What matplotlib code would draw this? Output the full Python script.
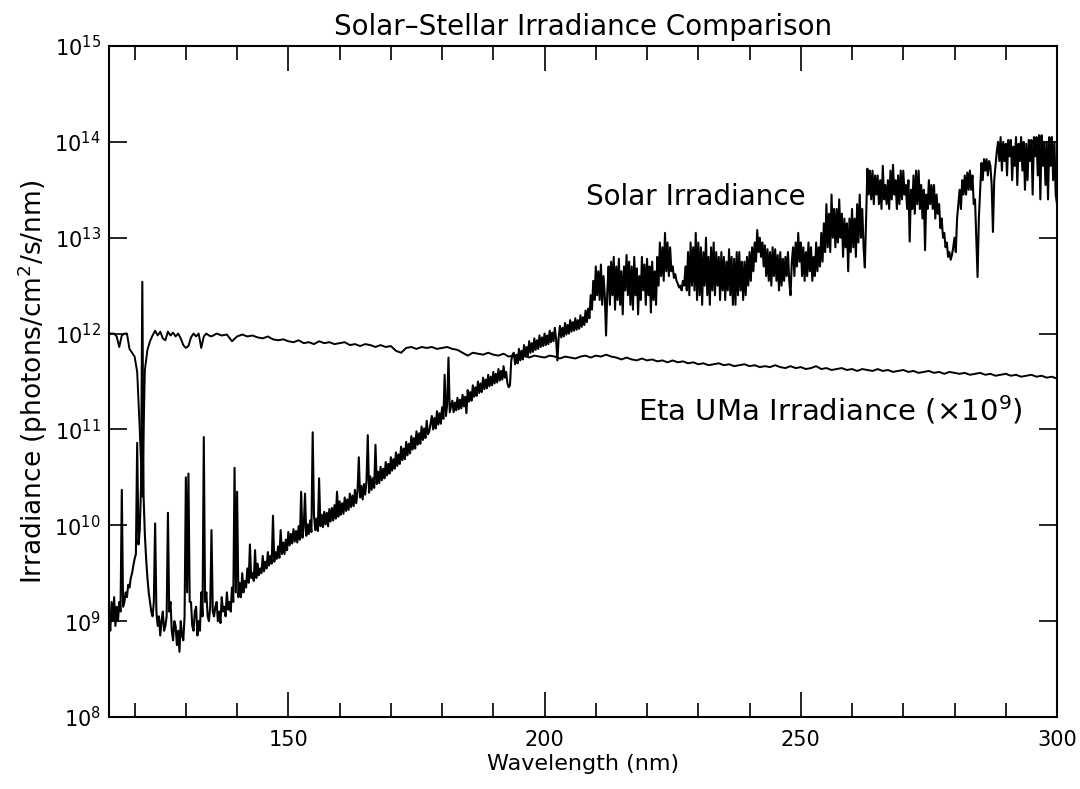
import numpy as np
import matplotlib
matplotlib.use("Agg")
import matplotlib.pyplot as plt
from matplotlib.ticker import MultipleLocator, NullLocator, NullFormatter

# ---------------------------------------------------------------
# Solar irradiance, log10(photons/cm^2/s/nm), every 0.25 nm
# ---------------------------------------------------------------
solar_115 = [  # 115.00 - 149.75 nm
    9.05, 8.9, 9.2, 9.0,   9.25, 8.95, 9.15, 9.0,
    9.2, 9.1, 10.37, 9.15,   9.2, 9.3, 9.25, 9.38,
    9.35, 9.45, 9.5, 9.58,   9.65, 9.7, 10.86, 9.8,
    9.95, 10.4, 12.54, 10.3,   9.9, 9.65, 9.45, 9.3,
    9.2, 9.1, 9.05, 9.2,   10.02, 9.1, 8.95, 9.05,
    8.85, 9.0, 9.1, 8.9,   8.95, 9.05, 10.13, 9.1,
    9.2, 8.9, 8.8, 9.0,   8.95, 8.75, 8.9, 8.68,
    9.0, 8.85, 8.8, 9.05,   10.5, 9.3, 10.54, 9.2,
    9.2, 8.95, 8.9, 9.1,   9.15, 8.85, 9.0, 8.9,
    9.3, 9.05, 10.92, 9.2,   9.3, 9.05, 9.0, 9.15,
    9.95, 9.1, 9.05, 9.15,   9.2, 9.0, 9.1, 8.98,
    9.25, 9.1, 9.15, 9.05,   9.3, 9.12, 9.2, 9.1,
    9.35, 9.2, 10.6, 9.3,   10.35, 9.25, 9.4, 9.25,
    9.5, 9.3, 9.42, 9.35,   9.55, 9.4, 9.8, 9.45,
    9.5, 9.42, 9.74, 9.45,   9.6, 9.48, 9.55, 9.5,
    9.68, 9.52, 9.62, 9.55,   9.72, 9.58, 9.68, 9.6,
    10.1, 9.62, 9.72, 9.65,   9.78, 9.66, 9.95, 9.7,
    9.82, 9.7, 9.85, 9.74,
]
solar_150 = [  # 150.00 - 179.75 nm
    9.93, 9.79, 9.91, 9.81,   9.96, 9.83, 9.94, 9.82,
    9.99, 9.85, 10.35, 9.87,   9.98, 10.33, 9.89, 10.01,
    9.91, 10.05, 9.93, 10.97,   10.11, 9.95, 10.07, 9.94,
    10.49, 9.99, 10.11, 9.98,   10.14, 10.01, 10.13, 9.99,
    10.17, 10.04, 10.18, 10.05,   10.21, 10.07, 10.35, 10.09,
    10.25, 10.11, 10.23, 10.12,   10.29, 10.15, 10.27, 10.16,
    10.33, 10.19, 10.31, 10.2,   10.37, 10.23, 10.35, 10.71,
    10.29, 10.41, 10.27, 10.43,   10.32, 10.46, 10.94, 10.34,
    10.51, 10.37, 10.49, 10.39,   10.84, 10.43, 10.56, 10.44,
    10.61, 10.47, 10.59, 10.49,   10.66, 10.52, 10.64, 10.54,
    10.71, 10.57, 10.69, 10.59,   10.76, 10.62, 10.74, 10.64,
    10.82, 10.68, 10.8, 10.69,   10.87, 10.73, 10.85, 10.75,
    10.93, 10.79, 10.91, 10.8,   10.98, 10.84, 10.96, 10.85,
    11.03, 10.89, 11.01, 10.91,   11.09, 10.95, 10.98, 11.06,
    11.14, 11.0, 11.12, 11.01,   11.19, 11.05, 11.17, 11.06,
]
solar_180 = [  # 180.00 - 209.75 nm
    11.23, 11.11, 11.57, 11.14,   11.26, 11.75, 11.18, 11.24,
    11.3, 11.18, 11.28, 11.2,   11.33, 11.21, 11.31, 11.22,
    11.36, 11.24, 11.34, 11.17,   11.41, 11.29, 11.39, 11.3,
    11.46, 11.34, 11.44, 11.35,   11.5, 11.38, 11.48, 11.39,
    11.54, 11.42, 11.52, 11.43,   11.57, 11.45, 11.55, 11.46,
    11.6, 11.48, 11.58, 11.49,   11.63, 11.51, 11.61, 11.52,
    11.66, 11.54, 11.6, 11.48,   11.44, 11.46, 11.72, 11.78,
    11.8, 11.68, 11.78, 11.69,   11.84, 11.72, 11.82, 11.73,
    11.88, 11.76, 11.86, 11.77,   11.92, 11.8, 11.9, 11.81,
    11.95, 11.83, 11.93, 11.84,   11.98, 11.86, 11.96, 11.87,
    12.0, 11.88, 11.98, 11.89,   12.03, 11.91, 12.01, 11.92,
    12.06, 11.94, 11.72, 11.96,   12.08, 11.96, 12.06, 11.97,
    12.11, 11.99, 12.09, 12.0,   12.14, 12.02, 12.12, 12.03,
    12.16, 12.04, 12.14, 12.05,   12.19, 12.07, 12.17, 12.09,
    12.24, 12.12, 12.26, 12.16,   12.4, 12.25, 12.55, 12.35,
]
solar_210 = [  # 210.00 - 249.75 nm
    12.7, 12.4, 12.65, 12.35,   12.72, 12.3, 12.6, 12.4,
    11.98, 12.45, 12.7, 12.3,   12.75, 12.4, 12.8, 12.25,
    12.7, 12.35, 12.78, 12.3,   12.65, 12.2, 12.7, 12.45,
    12.82, 12.4, 12.75, 12.3,   12.7, 12.25, 12.8, 12.4,
    12.68, 12.2, 12.6, 12.35,   12.8, 12.45, 12.72, 12.3,
    12.78, 12.4, 12.7, 12.22,   12.75, 12.35, 12.65, 12.3,
    12.8, 12.5, 12.95, 12.6,   12.9, 12.55, 13.05, 12.65,
    12.95, 12.6, 12.9, 12.65,   12.7, 12.58, 12.62, 12.55,
    12.52, 12.48, 12.5, 12.45,   12.55, 12.5, 12.7, 12.45,
    12.85, 12.4, 12.95, 12.5,   12.9, 12.45, 13.05, 12.35,
    12.95, 12.4, 12.9, 12.3,   12.85, 12.5, 13.0, 12.4,
    12.8, 12.3, 12.9, 12.45,   12.95, 12.4, 12.85, 12.5,
    12.8, 12.35, 12.85, 12.45,   12.8, 12.35, 12.75, 12.45,
    12.88, 12.4, 12.8, 12.3,   12.78, 12.3, 12.85, 12.4,
    12.85, 12.45, 12.75, 12.35,   12.75, 12.4, 12.8, 12.5,
    12.85, 12.55, 12.9, 12.65,   12.95, 12.75, 13.08, 12.85,
    13.0, 12.8, 12.95, 12.7,   12.92, 12.6, 12.88, 12.55,
    12.85, 12.5, 12.9, 12.6,   12.88, 12.55, 12.82, 12.45,
    12.85, 12.5, 12.78, 12.55,   12.8, 12.6, 12.85, 12.55,
    12.4, 12.75, 12.9, 12.6,   12.95, 12.7, 13.05, 12.75,
]
solar_250 = [  # 250.00 - 300.00 nm
    12.95, 12.6, 12.9, 12.55,   12.85, 12.6, 12.95, 12.65,
    12.9, 12.55, 12.8, 12.6,   12.95, 12.65, 12.9, 12.7,
    13.05, 12.75, 13.15, 12.85,   13.35, 12.9, 13.25, 12.85,
    13.45, 13.0, 13.3, 12.9,   13.3, 12.95, 13.4, 13.0,
    13.25, 12.8, 13.2, 12.9,   13.15, 12.65, 13.2, 12.85,
    13.3, 12.9, 13.2, 12.8,   13.35, 12.95, 13.45, 13.0,
    13.3, 12.9, 12.69, 13.2,   13.72, 13.45, 13.7, 13.4,
    13.7, 13.35, 13.65, 13.45,   13.65, 13.35, 13.6, 13.3,
    13.75, 13.4, 13.55, 13.35,   13.6, 13.3, 13.7, 13.4,
    13.76, 13.45, 13.6, 13.3,   13.65, 13.35, 13.7, 13.4,
    13.7, 13.45, 13.55, 13.3,   13.6, 12.96, 13.5, 13.3,
    13.65, 13.25, 13.7, 13.35,   13.7, 13.3, 13.55, 13.2,
    13.5, 12.87, 13.45, 13.3,   13.6, 13.35, 13.55, 13.3,
    13.55, 13.2, 13.45, 13.25,   13.35, 13.1, 13.2, 13.0,
    13.05, 12.9, 12.95, 12.8,   12.85, 12.77, 12.82, 12.9,
    13.0, 12.85, 13.2, 13.35,   13.5, 13.3, 13.6, 13.45,
    13.65, 13.45, 13.68, 13.5,   13.7, 13.5, 13.65, 13.35,
    13.4, 13.0, 12.59, 13.2,   13.5, 13.78, 13.6, 13.82,
    13.7, 13.82, 13.65, 13.8,   13.75, 13.55, 13.06, 13.6,
    13.75, 13.9, 14.0, 13.8,   14.05, 13.7, 14.0, 13.8,
    13.98, 13.65, 14.02, 13.85,   14.02, 13.6, 13.95, 13.75,
    14.05, 13.55, 13.98, 13.8,   14.05, 13.7, 14.0, 13.5,
    13.98, 13.6, 14.02, 13.8,   14.02, 13.45, 14.05, 13.85,
    14.05, 13.65, 14.07, 13.4,   14.07, 13.75, 14.0, 13.55,
    14.0, 13.4, 14.05, 13.75,   14.05, 13.6, 14.0, 13.45,
    13.35,
]
solar_segments = [(115.0, 0.25, solar_115), (150.0, 0.25, solar_150),
                  (180.0, 0.25, solar_180), (210.0, 0.25, solar_210),
                  (250.0, 0.25, solar_250)]

# ---------------------------------------------------------------
# Eta UMa irradiance scaled by 1e9, log10 units
# ---------------------------------------------------------------
eta_115 = [  # 115.0 - 134.5 nm, every 0.5 nm
    12.0, 12.0, 12.0, 11.97, 11.86, 11.98, 12.0, 12.0, 11.84, 11.8,
    11.76, 11.6, 11.0, 10.3, 11.62, 11.83, 11.92, 11.98, 12.03, 11.98,
    12.02, 11.95, 11.93, 12.02, 11.98, 12.01, 11.97, 12.0, 11.95, 11.88,
    11.85, 11.87, 11.96, 12.0, 11.97, 12.0, 11.85, 11.97, 12.0, 11.98,
]
eta_135 = [  # 135 - 300 nm, every 1 nm
    11.97, 12.0, 11.98, 11.99, 11.92, 11.97, 11.99, 11.97, 11.98, 11.96,
    11.95, 11.97, 11.94, 11.93, 11.94, 11.92, 11.91, 11.93, 11.9, 11.91,
    11.89, 11.92, 11.9, 11.91, 11.89, 11.9, 11.91, 11.88, 11.89, 11.87,
    11.89, 11.88, 11.86, 11.88, 11.86, 11.87, 11.82, 11.8, 11.85, 11.86,
    11.84, 11.86, 11.85, 11.86, 11.84, 11.85, 11.86, 11.84, 11.83, 11.8,
    11.77, 11.8, 11.79, 11.78, 11.8, 11.78, 11.77, 11.79, 11.76, 11.77,
    11.76, 11.77, 11.75, 11.77, 11.76, 11.75, 11.77, 11.76, 11.74, 11.76,
    11.75, 11.74, 11.76, 11.77, 11.75, 11.77, 11.76, 11.78, 11.76, 11.75,
    11.73, 11.75, 11.73, 11.72, 11.74, 11.72, 11.73, 11.71, 11.72, 11.7,
    11.72, 11.7, 11.71, 11.69, 11.7, 11.68, 11.69, 11.67, 11.68, 11.69,
    11.67, 11.68, 11.66, 11.67, 11.68, 11.66, 11.67, 11.65, 11.66, 11.65,
    11.67, 11.65, 11.64, 11.66, 11.64, 11.65, 11.63, 11.64, 11.66, 11.63,
    11.64, 11.62, 11.63, 11.64, 11.62, 11.63, 11.61, 11.63, 11.62, 11.61,
    11.63, 11.61, 11.62, 11.6, 11.61, 11.62, 11.6, 11.61, 11.59, 11.6,
    11.61, 11.59, 11.6, 11.58, 11.6, 11.59, 11.58, 11.59, 11.57, 11.58,
    11.59, 11.57, 11.58, 11.56, 11.57, 11.58, 11.56, 11.57, 11.55, 11.56,
    11.57, 11.55, 11.56, 11.54, 11.55, 11.53,
]
eta_segments = [(115.0, 0.5, eta_115), (135.0, 1.0, eta_135)]

x_ticks = [150, 200, 250, 300]
y_decades = list(range(8, 16))
title = "Solar\u2013Stellar Irradiance Comparison"
solar_label = "Solar Irradiance"
eta_label = r"Eta UMa Irradiance ($\times$10$^9$)"


def assemble(segments):
    wl, val = [], []
    for start, step, values in segments:
        wl.append(start + step * np.arange(len(values)))
        val.append(np.asarray(values, dtype=float))
    return np.concatenate(wl), 10.0 ** np.concatenate(val)


solar_wl, solar_flux = assemble(solar_segments)
eta_wl, eta_flux = assemble(eta_segments)

plt.rcParams["font.family"] = ["DejaVu Sans"]
plt.rcParams["mathtext.fontset"] = "dejavusans"

fig = plt.figure(figsize=(10.8, 7.89), dpi=100)
ax = fig.add_axes([109 / 1080, 72 / 789, 948 / 1080, 671 / 789])

ax.plot(solar_wl, solar_flux, color="black", lw=1.5)
ax.plot(eta_wl, eta_flux, color="black", lw=1.4)

ax.set_yscale("log")
ax.set_xlim(115, 300)
ax.set_ylim(1e8, 1e15)
ax.set_xticks(x_ticks)
ax.set_yticks([10.0 ** k for k in y_decades])
ax.set_yticklabels([rf"10$^{{{k}}}$" for k in y_decades])
ax.xaxis.set_minor_locator(MultipleLocator(10))
ax.xaxis.set_minor_formatter(NullFormatter())
ax.yaxis.set_minor_locator(NullLocator())

for side in ax.spines.values():
    side.set_linewidth(1.5)
ax.tick_params(axis="both", which="both", direction="in", top=True, right=True,
               width=1.2, colors="black")
ax.tick_params(axis="x", which="major", length=18, pad=9, labelsize=15)
ax.tick_params(axis="x", which="minor", length=10)
ax.tick_params(axis="y", which="major", length=13, pad=6, labelsize=15)

ax.set_title(title, fontsize=20, pad=8)
ax.set_xlabel("Wavelength (nm)", fontsize=16, labelpad=3)
ax.set_ylabel(r"Irradiance (photons/cm$^2$/s/nm)", fontsize=19, labelpad=3)

ax.text(208.0, 10 ** 13.42, solar_label, fontsize=20, ha="left", va="center")
ax.text(218.3, 10 ** 11.2, eta_label, fontsize=21, ha="left", va="center")

fig.savefig("out.png", dpi=100)
